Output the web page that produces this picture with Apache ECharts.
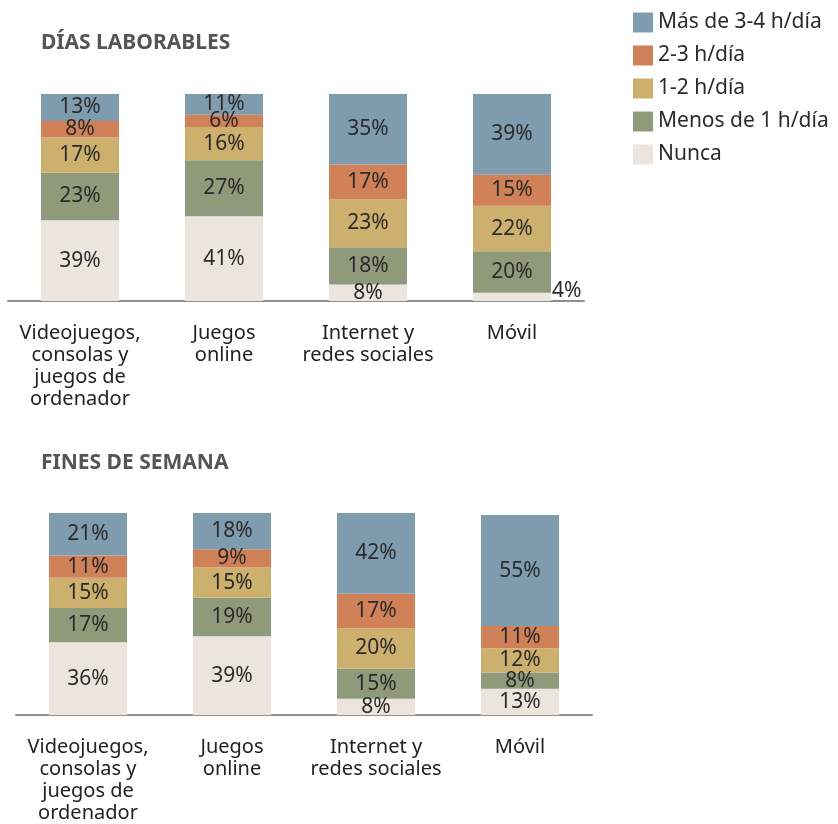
<!DOCTYPE html>
<html>
<head>
<meta charset="utf-8">
<script src="https://cdn.jsdelivr.net/npm/echarts@6/dist/echarts.min.js"></script>
<style>
  html, body { margin: 0; padding: 0; background: #ffffff; }
  #chart { width: 838px; height: 824px; }
</style>
</head>
<body>
<div id="chart"></div>
<script>
// Categories shared by both panels
const categories = [
  'Videojuegos,\nconsolas y\njuegos de\nordenador',
  'Juegos\nonline',
  'Internet y\nredes sociales',
  'Móvil'
];

// Frequency bands, bottom to top of each stack
const bands = ['Nunca', 'Menos de 1 h/día', '1-2 h/día', '2-3 h/día', 'Más de 3-4 h/día'];
const bandColors = ['#ebe5dd', '#8f9a7a', '#ceb06e', '#d08158', '#7f9cae'];

// Días laborables (%), per band, per category
const weekdayNunca = [39, 41, 8, 4];
const weekdayMenos1 = [23, 27, 18, 20];
const weekday1a2 = [17, 16, 23, 22];
const weekday2a3 = [8, 6, 17, 15];
const weekdayMas3 = [13, 11, 35, 39];

// Fines de semana (%), per band, per category
const weekendNunca = [36, 39, 8, 13];
const weekendMenos1 = [17, 19, 15, 8];
const weekend1a2 = [15, 15, 20, 12];
const weekend2a3 = [11, 9, 17, 11];
const weekendMas3 = [21, 18, 42, 55];

const weekdaySets = [weekdayNunca, weekdayMenos1, weekday1a2, weekday2a3, weekdayMas3];
const weekendSets = [weekendNunca, weekendMenos1, weekend1a2, weekend2a3, weekendMas3];

const FONT = '"Noto Sans", "Open Sans", sans-serif';

function makeSeries(sets, gridIdx, stackName) {
  return sets.map((vals, b) => ({
    name: bands[b],
    type: 'bar',
    stack: stackName,
    xAxisIndex: gridIdx,
    yAxisIndex: gridIdx,
    barWidth: 78,
    itemStyle: { color: bandColors[b] },
    label: {
      show: true,
      position: 'inside',
      formatter: '{c}%',
      color: '#2b2b2b',
      fontSize: 21,
      fontFamily: FONT
    },
    data: vals.map((v) => {
      // very thin segments carry their label beside the bar
      if (v < 5) {
        return {
          value: v,
          label: { position: 'right', offset: [-4, -6] }
        };
      }
      return v;
    })
  }));
}

function catAxis(gridIdx) {
  return {
    type: 'category',
    gridIndex: gridIdx,
    data: categories,
    axisLine: { lineStyle: { color: '#8e8e93', width: 2 } },
    axisTick: { show: false },
    axisLabel: {
      interval: 0,
      color: '#222',
      fontSize: 20,
      lineHeight: 22,
      fontFamily: FONT,
      margin: 21
    }
  };
}

function valAxis(gridIdx) {
  return {
    type: 'value',
    gridIndex: gridIdx,
    min: 0,
    max: 100,
    show: false,
    splitLine: { show: false }
  };
}

const chart = echarts.init(document.getElementById('chart'), null, { renderer: 'canvas' });

chart.setOption({
  backgroundColor: '#ffffff',
  animation: false,
  title: [
    {
      text: 'DÍAS LABORABLES',
      left: 36, top: 28,
      textStyle: { color: '#555', fontSize: 21, fontWeight: 'bold', fontFamily: FONT }
    },
    {
      text: 'FINES DE SEMANA',
      left: 36, top: 448,
      textStyle: { color: '#555', fontSize: 21, fontWeight: 'bold', fontFamily: FONT }
    }
  ],
  legend: {
    orient: 'vertical',
    left: 628,
    top: 7,
    itemWidth: 20,
    itemHeight: 20,
    itemGap: 12,
    icon: 'rect',
    data: bands.slice().reverse(),
    textStyle: { color: '#2b2b2b', fontSize: 21, fontFamily: FONT }
  },
  grid: [
    { left: 8, width: 576, top: 94, height: 207 },
    { left: 16, width: 576, top: 513, height: 207 }
  ],
  xAxis: [catAxis(0), catAxis(1)],
  yAxis: [valAxis(0), valAxis(1)],
  series: [
    ...makeSeries(weekdaySets, 0, 'weekday'),
    ...makeSeries(weekendSets, 1, 'weekend')
  ]
});
</script>
</body>
</html>
